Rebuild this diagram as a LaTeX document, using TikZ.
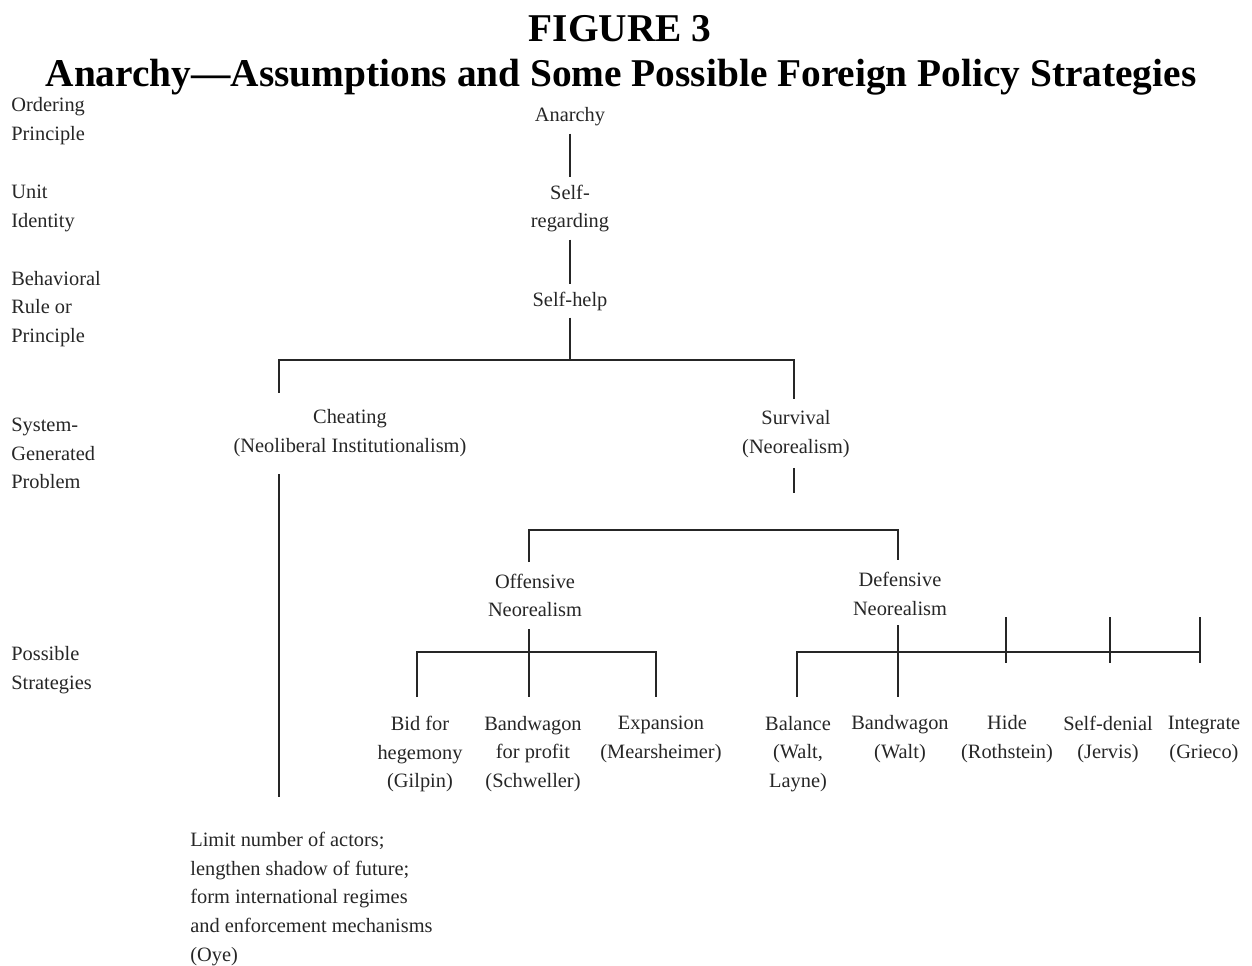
\documentclass[tikz,border=0pt]{standalone}
\usepackage{fontspec}
\setmainfont{Liberation Serif}
\usetikzlibrary{positioning}

\begin{document}
\begin{tikzpicture}[x=0.02cm, y=-0.02cm]
    % --- DEFINE STYLES ---
    % Style for the level names on the left
    \tikzstyle{lvl} = [anchor=west, align=left, inner sep=0pt, text=black!85, font=\fontsize{11.6}{16.4}\selectfont]
    % Style for the entries of the tree
    \tikzstyle{entry} = [align=center, inner sep=4pt, text=black!85, font=\fontsize{11.6}{16.4}\selectfont]
    % Style for the connecting lines
    \tikzstyle{lnk} = [line width=1.1pt, black!85]

    \useasboundingbox (0,0) rectangle (1252,966);

    % Title
    \node[font=\bfseries\fontsize{22.4}{26}\selectfont] (fig) at (620,29) {FIGURE 3};
    \node[font=\bfseries\fontsize{22.4}{26}\selectfont] (ttl) at (621,77) {Anarchy---Assumptions and Some Possible Foreign Policy Strategies};

    % --- LEVEL NAMES ---
    \node[lvl] (ordering) at (11,121.5) {Ordering\\Principle};
    \node[lvl] (unit) at (11,208.5) {Unit\\Identity};
    \node[lvl] (rule) at (11,309) {Behavioral\\Rule or\\Principle};
    \node[lvl] (problem) at (11,453.5) {System-\\Generated\\Problem};
    \node[lvl] (possible) at (11,670.5) {Possible\\Strategies};

    % --- TREE ENTRIES ---
    \node[entry] (anarchy) at (570,117) {Anarchy};
    \node[entry] (selfreg) at (570,208.5) {Self-\\regarding};
    \node[entry] (selfhelp) at (570,301) {Self-help};
    \node[entry] (cheat) at (350,433.5) {Cheating\\(Neoliberal Institutionalism)};
    \node[entry] (surv) at (796,434) {Survival\\(Neorealism)};
    \node[entry] (off) at (535,595.5) {Offensive\\Neorealism};
    \node[entry] (def) at (900,594) {Defensive\\Neorealism};

    % offensive strategies
    \node[entry] (bid) at (420,754) {Bid for\\hegemony\\(Gilpin)};
    \node[entry] (bwprofit) at (533,754) {Bandwagon\\for profit\\(Schweller)};
    \node[entry] (expand) at (661,739.5) {Expansion\\(Mearsheimer)};
    % defensive strategies
    \node[entry] (balance) at (798,754) {Balance\\(Walt,\\Layne)};
    \node[entry] (bwwalt) at (900,739.5) {Bandwagon\\(Walt)};
    \node[entry] (hide) at (1007,739.5) {Hide\\(Rothstein)};
    \node[entry] (selfden) at (1108,739.5) {Self-denial\\(Jervis)};
    \node[entry] (integ) at (1204,739.5) {Integrate\\(Grieco)};

    % cheating remedy
    \node[lvl] (limit) at (190,899) {Limit number of actors;\\lengthen shadow of future;\\form international regimes\\and enforcement mechanisms\\(Oye)};

    % --- JUNCTION POINTS ---
    \coordinate (bar1) at (570,360);
    \coordinate (cheatup) at (279,393);
    \coordinate (survup) at (794,399);
    \coordinate (cheatdn) at (279,474);
    \coordinate (limitup) at (279,797);
    \coordinate (survdn) at (794,468);
    \coordinate (survend) at (794,493);
    \coordinate (bar2) at (700,530);
    \coordinate (offup) at (529,562);
    \coordinate (defup) at (898,560);
    \coordinate (offdn) at (529,629);
    \coordinate (bar3) at (529,652);
    \coordinate (bidup) at (417,697);
    \coordinate (bwpup) at (529,697);
    \coordinate (expup) at (656,697);
    \coordinate (defdn) at (898,625);
    \coordinate (balup) at (797,697);
    \coordinate (bwwup) at (898,697);
    \coordinate (bar4) at (1200,652);

    % --- CONNECTORS ---
    \draw[lnk] (anarchy) -- (selfreg);
    \draw[lnk] (selfreg) -- (selfhelp);
    \draw[lnk] (selfhelp) -- (bar1);
    \draw[lnk] (cheatup) |- (bar1) -| (survup);
    \draw[lnk] (cheatdn) -- (limitup);
    \draw[lnk] (survdn) -- (survend);
    \draw[lnk] (offup) |- (bar2) -| (defup);

    % offensive branch
    \draw[lnk] (offdn) -- (bwpup);
    \draw[lnk] (bidup) |- (bar3) -| (expup);

    % defensive branch
    \draw[lnk] (defdn) -- (bwwup);
    \draw[lnk] (balup) |- (bar4);
    \foreach \x in {1006,1110,1200} {
        \draw[lnk] (\x,617) -- (\x,663);
    }
\end{tikzpicture}
\end{document}
